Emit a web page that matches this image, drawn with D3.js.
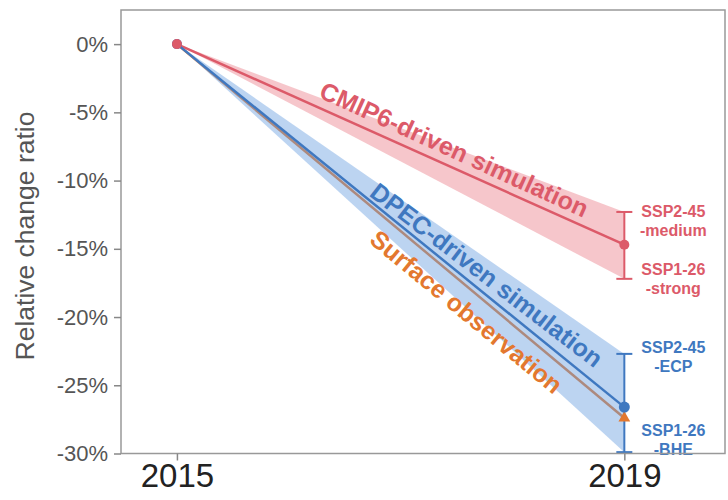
<!DOCTYPE html>
<html>
<head>
<meta charset="utf-8">
<script src="https://cdn.jsdelivr.net/npm/d3@7"></script>
<style>
  body { margin: 0; background: #fff; }
  svg { font-family: "Liberation Sans", Arial, sans-serif; }
</style>
</head>
<body>
<div id="chart"></div>
<script>
// data (percent change relative to 2015)
const years = [2015, 2019];
const cmip6Mean = [0, -14.7];
const cmip6Low = [0, -17.2];
const cmip6High = [0, -12.3];
const dpecMean = [0, -26.6];
const dpecLow = [0, -29.9];
const dpecHigh = [0, -22.7];
const obsValues = [0, -27.4];
const yTicks = [0, -5, -10, -15, -20, -25, -30];
const xTicks = [2015, 2019];

const width = 728, height = 500;
const margin = { top: 10, right: 3, bottom: 46.5, left: 121 };

const svg = d3.select("#chart").append("svg")
    .attr("width", width)
    .attr("height", height);

const x = d3.scaleLinear().domain([2014.5, 2019.9]).range([margin.left, width - margin.right]);
const y = d3.scaleLinear().domain([-30, 2.5]).range([height - margin.bottom, margin.top]);

const red = "#dc5a69", blue = "#3f78c0", orange = "#e3782f";

const line = d3.line().x((d, i) => x(years[i])).y(d => y(d));
const band = (lo, hi) => d3.area()
    .x((d, i) => x(years[i]))
    .y0((d, i) => y(lo[i]))
    .y1((d, i) => y(hi[i]))(years);

// surface observation line goes under the blue band
svg.append("path").attr("d", line(obsValues))
    .attr("fill", "none").attr("stroke", orange).attr("stroke-width", 2.5);

svg.append("path").attr("d", band(cmip6Low, cmip6High))
    .attr("fill", "#e8707c").attr("fill-opacity", 0.4);
svg.append("path").attr("d", band(dpecLow, dpecHigh))
    .attr("fill", "#6a9fe0").attr("fill-opacity", 0.45);

svg.append("path").attr("d", line(cmip6Mean))
    .attr("fill", "none").attr("stroke", red).attr("stroke-width", 2.5);
svg.append("path").attr("d", line(dpecMean))
    .attr("fill", "none").attr("stroke", blue).attr("stroke-width", 2.5);

// error bars at 2019
function errBar(lo, hi, color) {
    const g = svg.append("g").attr("stroke", color).attr("stroke-width", 2);
    const cx = x(years[1]);
    g.append("line").attr("x1", cx).attr("x2", cx).attr("y1", y(lo)).attr("y2", y(hi));
    [lo, hi].forEach(v => g.append("line")
        .attr("x1", cx - 8).attr("x2", cx + 8).attr("y1", y(v)).attr("y2", y(v)));
}
errBar(cmip6Low[1], cmip6High[1], red);
errBar(dpecLow[1], dpecHigh[1], blue);

// markers
svg.append("path")
    .attr("d", d3.symbol(d3.symbolTriangle, 60)())
    .attr("transform", `translate(${x(years[1])},${y(obsValues[1])})`)
    .attr("fill", orange);
svg.append("circle").attr("cx", x(years[1])).attr("cy", y(dpecMean[1])).attr("r", 5.5).attr("fill", blue);
svg.append("circle").attr("cx", x(years[1])).attr("cy", y(cmip6Mean[1])).attr("r", 5).attr("fill", red);
svg.append("circle").attr("cx", x(years[0])).attr("cy", y(dpecMean[0])).attr("r", 5).attr("fill", blue);
svg.append("circle").attr("cx", x(years[0])).attr("cy", y(cmip6Mean[0])).attr("r", 5).attr("fill", red);

// series labels along the lines
function seriesLabel(text, xv, yv, angle, color) {
    svg.append("text")
        .attr("transform", `translate(${x(xv)},${y(yv)}) rotate(${angle})`)
        .attr("text-anchor", "middle")
        .attr("dominant-baseline", "central")
        .attr("font-size", 25).attr("font-weight", "bold")
        .attr("fill", color)
        .text(text);
}
seriesLabel("CMIP6-driven simulation", 2017.48, -7.7, 24.5, red);
seriesLabel("DPEC-driven simulation", 2017.77, -16.9, 37.5, blue);
seriesLabel("Surface observation", 2017.59, -19.6, 39.5, orange);

// scenario labels next to the error bars
function scenLabel(lines, yv, dy, color) {
    const t = svg.append("text")
        .attr("x", x(years[1]) + 49).attr("y", y(yv) + dy)
        .attr("text-anchor", "middle")
        .attr("font-size", 16).attr("font-weight", "bold")
        .attr("fill", color);
    lines.forEach((s, i) => t.append("tspan").attr("x", x(years[1]) + 49).attr("dy", i ? 19 : 0).text(s));
}
scenLabel(["SSP2-45", "-medium"], cmip6High[1], 5, red);
scenLabel(["SSP1-26", "-strong"], cmip6Low[1], -4, red);
scenLabel(["SSP2-45", "-ECP"], dpecHigh[1], -1, blue);
scenLabel(["SSP1-26", "-BHE"], dpecLow[1], -16, blue);

// frame
svg.append("rect")
    .attr("x", margin.left).attr("y", margin.top)
    .attr("width", width - margin.left - margin.right)
    .attr("height", height - margin.top - margin.bottom)
    .attr("fill", "none").attr("stroke", "#999").attr("stroke-width", 1.5);

// axes
const yAxis = svg.append("g")
    .attr("transform", `translate(${margin.left},0)`)
    .call(d3.axisLeft(y).tickValues(yTicks).tickFormat(d => d + "%").tickSize(7).tickPadding(6));
yAxis.select(".domain").remove();
yAxis.selectAll("line").attr("stroke", "#888").attr("stroke-width", 1.5);
yAxis.selectAll("text").attr("font-size", 22).attr("fill", "#555").attr("font-family", "Liberation Sans, Arial, sans-serif");

const xAxis = svg.append("g")
    .attr("transform", `translate(0,${height - margin.bottom})`)
    .call(d3.axisBottom(x).tickValues(xTicks).tickFormat(d3.format("d")).tickSize(7).tickPadding(3));
xAxis.select(".domain").remove();
xAxis.selectAll("line").attr("stroke", "#888").attr("stroke-width", 1.5);
xAxis.selectAll("text").attr("font-size", 33).attr("fill", "#222").attr("font-family", "Liberation Sans, Arial, sans-serif");

svg.append("text")
    .attr("transform", `translate(34,236) rotate(-90)`)
    .attr("text-anchor", "middle")
    .attr("font-size", 26.5).attr("fill", "#555")
    .text("Relative change ratio");
</script>
</body>
</html>
